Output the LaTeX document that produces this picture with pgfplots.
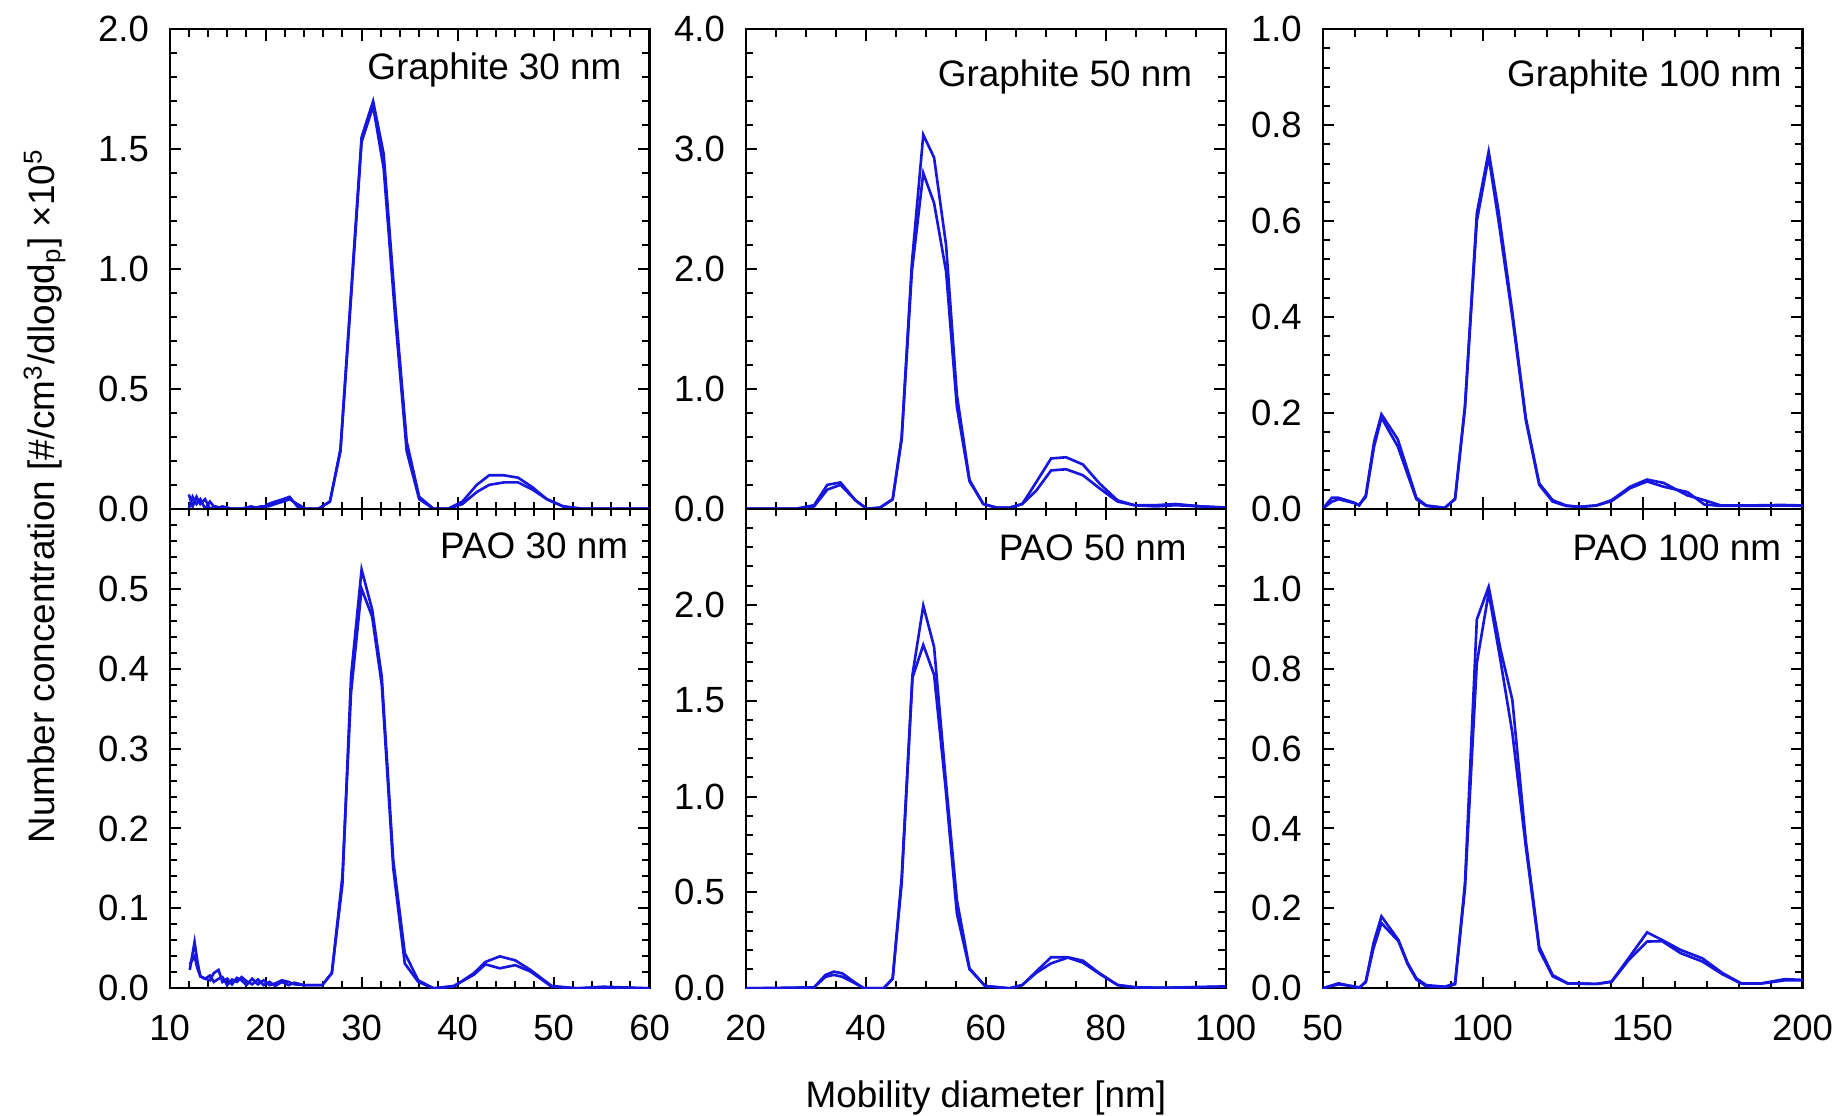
\documentclass[border=0pt]{standalone}
\usepackage{fontspec}
\setmainfont{Liberation Sans}
\usepackage{pgfplots}
\pgfplotsset{compat=1.18}
\definecolor{myblue}{RGB}{22,22,222}
\tikzset{plab/.style={anchor=north east, inner sep=0pt, font=\fontsize{10.1}{12}\selectfont}}
\pgfplotsset{
  panel/.style={
    scale only axis, width=131.5pt, height=131.37pt, anchor=south west,
    axis line style={line width=0.6pt, black},
    tick align=inside, xtick pos=both, ytick pos=both,
    major tick length=3.2pt, minor tick length=2pt,
    every tick/.append style={line width=0.55pt, black},
    tick label style={font=\fontsize{10}{12}\selectfont, inner sep=0pt},
    yticklabel style={anchor=east, xshift=-5.5pt},
    xticklabel style={anchor=north, yshift=-7pt},
    minor x tick num=4, minor y tick num=4,
    ymin=0,
  },
  col1/.style={xmin=10, xmax=60, xtick={10,20,30,40,50,60}, minor x tick num=4},
  col2/.style={xmin=20, xmax=100, xtick={20,40,60,80,100}, minor x tick num=3},
  col3/.style={xmin=50, xmax=200, xtick={50,100,150,200}, minor x tick num=4},
  toprow/.style={xticklabels={}},
  curve/.style={line width=0.72pt, color=myblue, mark=none},
}
\begin{document}
\begin{tikzpicture}[font=\fontsize{10.1}{12}\selectfont]
\path[use as bounding box] (0,0) rectangle (503.56pt,305.48pt);

% ---------- Graphite 30 nm ----------
\begin{axis}[panel, col1, toprow, at={(46.47pt,166.08pt)},
  ymax=2, ytick={0,0.5,1,1.5,2}, yticklabels={0.0,0.5,1.0,1.5,2.0}]
\addplot[curve] table {
12.0 0.06
12.4 0.01
12.8 0.05
13.2 0.02
13.7 0.04
14.2 0.00
14.8 0.01
15.5 0.00
16.5 0.00
17.5 0.00
18.5 0.01
19.5 0.00
20.3 0.02
21.0 0.03
21.8 0.04
22.5 0.05
23.3 0.01
24.2 0.00
25.5 0.00
26.7 0.03
27.8 0.25
28.9 0.90
30.0 1.55
31.2 1.70
32.3 1.48
33.5 0.85
34.7 0.28
36.0 0.05
37.5 0.00
39.0 0.00
40.5 0.03
42.0 0.10
43.3 0.14
44.8 0.14
46.3 0.13
47.8 0.09
49.3 0.04
51.0 0.01
53.0 0.00
55.0 0.00
57.0 0.00
60.0 0.00
};
\addplot[curve] table {
12.0 0.00
12.4 0.05
12.8 0.02
13.2 0.04
13.7 0.00
14.2 0.03
14.8 0.00
15.5 0.01
16.5 0.00
17.5 0.00
18.5 0.00
19.5 0.01
20.3 0.01
21.0 0.02
21.8 0.03
22.5 0.04
23.3 0.02
24.2 0.00
25.5 0.00
26.7 0.03
27.8 0.24
28.9 0.88
30.0 1.53
31.2 1.68
32.3 1.42
33.5 0.80
34.7 0.24
36.0 0.04
37.5 0.00
39.0 0.00
40.5 0.02
42.0 0.07
43.3 0.10
44.8 0.11
46.3 0.11
47.8 0.08
49.3 0.04
51.0 0.01
53.0 0.00
55.0 0.00
57.0 0.00
60.0 0.00
};
\node[plab] at (rel axis cs:1,1) [xshift=-7.5pt, yshift=-6.2pt] {Graphite 30 nm};
\end{axis}

% ---------- Graphite 50 nm ----------
\begin{axis}[panel, col2, toprow, at={(204.30pt,166.08pt)},
  ymax=4, ytick={0,1,2,3,4}, yticklabels={0.0,1.0,2.0,3.0,4.0}]
\addplot[curve] table {
20 0.0
25 0.0
28.3 0.0
31.4 0.03
33.6 0.20
35.8 0.22
38.3 0.07
40.2 0.0
42.4 0.01
44.5 0.08
46.0 0.60
47.7 2.05
49.6 3.12
51.4 2.93
53.4 2.20
55.2 0.95
57.3 0.24
59.6 0.04
61.8 0.01
64.0 0.01
66.1 0.04
68.4 0.22
70.9 0.42
73.4 0.43
76.2 0.37
79.0 0.21
82.0 0.07
84.8 0.03
88.3 0.03
91.7 0.04
95.9 0.02
100 0.01
};
\addplot[curve] table {
20 0.0
28.3 0.0
31.4 0.02
33.6 0.16
35.8 0.20
38.3 0.07
40.2 0.0
42.4 0.01
44.5 0.08
46.0 0.58
47.7 1.98
49.6 2.80
51.4 2.55
53.4 1.98
55.2 0.85
57.3 0.23
59.6 0.04
61.8 0.01
64.0 0.01
66.1 0.04
68.4 0.15
70.9 0.32
73.4 0.33
76.2 0.28
79.0 0.17
82.0 0.06
84.8 0.03
88.3 0.02
91.7 0.03
95.9 0.02
100 0.01
};
\node[plab] at (rel axis cs:1,1) [xshift=-9pt, yshift=-8.2pt] {Graphite 50 nm};
\end{axis}

% ---------- Graphite 100 nm ----------
\begin{axis}[panel, col3, toprow, at={(362.35pt,166.08pt)},
  ymax=1, ytick={0,0.2,0.4,0.6,0.8,1.0}, yticklabels={0.0,0.2,0.4,0.6,0.8,1.0}]
\addplot[curve] table {
50 0.0
52.9 0.023
55.0 0.023
59.8 0.013
61.4 0.007
63.5 0.028
66.1 0.14
68.4 0.197
73.5 0.145
79.3 0.023
82.4 0.007
88.2 0.002
91.4 0.021
94.5 0.215
98.2 0.616
101.9 0.745
105.0 0.62
109.3 0.41
113.5 0.19
117.7 0.053
121.9 0.018
126.1 0.007
130.3 0.004
135.6 0.007
140.3 0.018
146.1 0.046
151.4 0.061
156.6 0.054
164.0 0.028
169.3 0.018
174.5 0.007
183.0 0.007
193.5 0.008
200 0.007
};
\addplot[curve] table {
50 0.0
52.9 0.015
55.0 0.02
59.8 0.012
61.4 0.008
63.5 0.025
66.1 0.13
68.4 0.19
73.5 0.13
79.3 0.02
82.4 0.006
88.2 0.002
91.4 0.02
94.5 0.21
98.2 0.60
101.9 0.735
105.0 0.60
109.3 0.40
113.5 0.185
117.7 0.05
121.9 0.015
126.1 0.006
130.3 0.004
135.6 0.007
140.3 0.016
146.1 0.043
151.4 0.057
156.6 0.046
164.0 0.035
169.3 0.009
174.5 0.006
183.0 0.006
193.5 0.007
200 0.006
};
\node[plab] at (rel axis cs:1,1) [xshift=-5.5pt, yshift=-8.2pt] {Graphite 100 nm};
\end{axis}

% ---------- PAO 30 nm ----------
\begin{axis}[panel, col1, at={(46.47pt,34.71pt)},
  ymax=0.6, ytick={0,0.1,0.2,0.3,0.4,0.5,0.6}, yticklabels={0.0,0.1,0.2,0.3,0.4,0.5,{}},
  xticklabels={10,20,30,40,50,60}]
\addplot[curve] table {
12.1 0.023
12.6 0.058
12.9 0.033
13.2 0.015
13.7 0.012
14.2 0.010
14.6 0.019
15.1 0.023
15.5 0.008
16.0 0.012
16.5 0.005
17.0 0.013
17.5 0.010
18.0 0.004
18.6 0.012
19.2 0.005
19.8 0.010
20.4 0.004
21.0 0.006
21.7 0.010
22.4 0.008
23.0 0.005
24.0 0.004
25.9 0.004
26.9 0.019
28.0 0.13
28.9 0.39
30.0 0.524
31.1 0.474
32.1 0.39
33.3 0.16
34.5 0.044
35.9 0.010
37.5 0.0
39.6 0.002
41.7 0.019
42.9 0.033
44.4 0.040
46.0 0.035
47.6 0.023
49.8 0.003
52.4 0.0
55.2 0.002
60 0.0
};
\addplot[curve] table {
12.1 0.03
12.6 0.04
12.9 0.025
13.2 0.015
13.7 0.012
14.2 0.016
14.6 0.008
15.1 0.012
15.5 0.014
16.0 0.004
16.5 0.011
17.0 0.008
17.5 0.014
18.0 0.009
18.6 0.005
19.2 0.011
19.8 0.004
20.4 0.008
21.0 0.003
21.7 0.008
22.4 0.004
23.0 0.007
24.0 0.004
25.9 0.004
26.9 0.019
28.0 0.14
28.9 0.37
30.0 0.50
31.1 0.465
32.1 0.38
33.3 0.15
34.5 0.031
35.9 0.008
37.5 0.0
39.6 0.003
41.7 0.017
42.9 0.03
44.4 0.025
46.0 0.029
47.6 0.021
49.8 0.002
52.4 0.0
55.2 0.001
60 0.0
};
\node[plab] at (rel axis cs:1,1) [xshift=-5.7pt, yshift=-6.4pt] {PAO 30 nm};
\end{axis}

% ---------- PAO 50 nm ----------
\begin{axis}[panel, col2, at={(204.30pt,34.71pt)},
  ymax=2.5, ytick={0,0.5,1,1.5,2,2.5}, yticklabels={0.0,0.5,1.0,1.5,2.0,{}},
  xticklabels={20,40,60,80,100}]
\addplot[curve] table {
20 0.0
25 0.0
31.4 0.005
33.3 0.07
34.7 0.087
36.1 0.078
38.0 0.035
39.7 0.0
43.0 0.0
44.5 0.052
46.0 0.58
47.8 1.635
49.6 1.995
51.4 1.78
53.3 1.10
55.2 0.46
57.3 0.104
59.9 0.012
64.0 0.0
66.1 0.017
68.4 0.087
70.9 0.162
73.7 0.162
76.2 0.144
79.0 0.078
82.0 0.017
85.0 0.005
90 0.003
100 0.01
};
\addplot[curve] table {
20 0.0
31.4 0.005
33.3 0.06
34.7 0.07
36.1 0.06
38.0 0.03
39.7 0.0
43.0 0.0
44.5 0.05
46.0 0.55
47.8 1.62
49.6 1.79
51.4 1.635
53.3 1.05
55.2 0.39
57.3 0.10
59.9 0.012
64.0 0.0
66.1 0.017
68.4 0.08
70.9 0.13
73.7 0.16
76.2 0.134
79.0 0.075
82.0 0.017
85.0 0.005
90 0.003
100 0.008
};
\node[plab] at (rel axis cs:1,1) [xshift=-10.5pt, yshift=-6.8pt] {PAO 50 nm};
\end{axis}

% ---------- PAO 100 nm ----------
\begin{axis}[panel, col3, at={(362.35pt,34.71pt)},
  ymax=1.2, ytick={0,0.2,0.4,0.6,0.8,1.0,1.2}, yticklabels={0.0,0.2,0.4,0.6,0.8,1.0,{}},
  xticklabels={50,100,150,200}]
\addplot[curve] table {
50 0.0
55 0.0125
59.8 0.004
61.4 0.0
63.5 0.017
65.9 0.113
68.4 0.18
73.7 0.121
76.6 0.063
79.3 0.025
82.4 0.008
88.2 0.004
91.4 0.0125
94.5 0.263
98.2 0.923
101.9 1.005
105.6 0.848
109.3 0.722
113.5 0.37
117.7 0.104
121.9 0.033
126.6 0.0125
135.6 0.011
140.3 0.017
145.6 0.075
151.4 0.14
156.1 0.121
161.9 0.096
168.7 0.075
175.0 0.038
180.8 0.0125
187.2 0.0125
194.5 0.023
200 0.021
};
\addplot[curve] table {
50 0.0
55 0.01
59.8 0.005
61.4 0.002
63.5 0.015
65.9 0.10
68.4 0.163
73.7 0.118
76.6 0.06
79.3 0.022
82.4 0.005
88.2 0.003
91.4 0.01
94.5 0.25
98.2 0.814
101.9 0.99
105.6 0.82
109.3 0.639
113.5 0.355
117.7 0.096
121.9 0.03
126.6 0.012
135.6 0.011
140.3 0.016
145.6 0.07
151.4 0.117
156.1 0.118
161.9 0.088
168.7 0.067
175.0 0.035
180.8 0.012
187.2 0.012
194.5 0.02
200 0.02
};
\node[plab] at (rel axis cs:1,1) [xshift=-5.7pt, yshift=-6.8pt] {PAO 100 nm};
\end{axis}

\node[anchor=center] at (270.1pt,4.6pt) {Mobility diameter [nm]};
\node[rotate=90, anchor=center] at (12.2pt,169.6pt) {Number concentration [\#/cm\textsuperscript{3}/dlogd\textsubscript{p}] ×10\textsuperscript{5}};
\end{tikzpicture}
\end{document}
